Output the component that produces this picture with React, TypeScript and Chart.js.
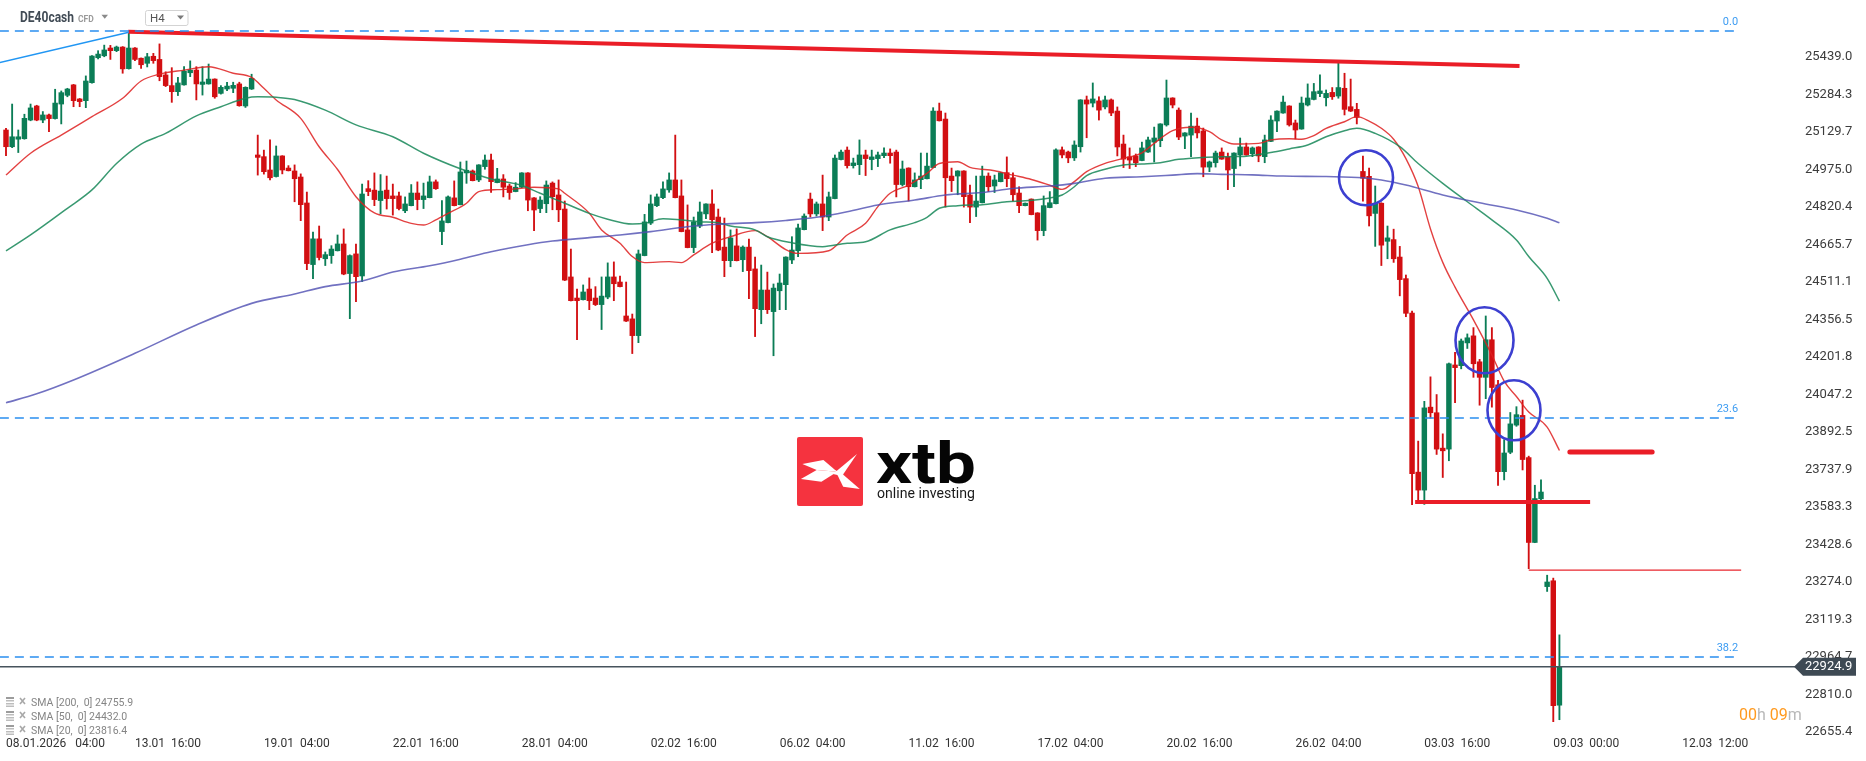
import React, { useEffect, useRef } from "react";
import { Chart, registerables } from "chart.js";

Chart.register(...registerables);
Chart.defaults.font.family = "Roboto";

// ---------------- DATA ----------------
const opens = [
  25138,25069,25100,25102,25179,25237,25179,25200,25185,25245,
  25281,25324,25266,25259,25333,25436,25444,25476,25465,25480,
  25391,25476,25434,25413,25442,25429,25365,25321,25296,25324,
  25374,25385,25326,25328,25348,25289,25307,25310,25328,25237,
  25307,25035,25028,24973,24946,25031,24981,24969,24944,24837,
  24583,24689,24607,24620,24640,24668,24546,24627,24536,24896,
  24890,24847,24890,24866,24866,24805,24826,24878,24851,24859,
  24924,24719,24756,24858,24830,24961,24969,24932,24987,25014,
  24921,24936,24907,24884,24902,24961,24858,24814,24834,24919,
  24870,24812,24532,24445,24438,24482,24445,24418,24449,24532,
  24511,24371,24359,24290,24620,24754,24826,24859,24891,24932,
  24866,24726,24653,24742,24792,24833,24779,24655,24599,24660,
  24603,24655,24565,24397,24478,24389,24475,24500,24602,24640,
  24727,24853,24792,24833,24779,24855,25016,25055,24991,24995,
  25035,25016,25020,25032,25043,25047,24913,24981,24904,24933,
  24937,24983,25216,25183,24948,24948,24969,24870,24820,24838,
  24948,24907,24925,24962,24941,24878,24826,24853,24796,24723,
  24818,24834,25056,25047,25023,25069,25262,25249,25258,25233,
  25262,25216,25080,25027,25031,25012,25047,25088,25094,25159,
  25270,25220,25113,25117,25154,25134,24985,25003,25047,25027,
  24979,25035,25068,25040,25068,25028,25091,25175,25208,25237,
  25167,25142,25241,25264,25288,25271,25293,25278,25310,25234,
  25223,24967,24947,24794,24836,24679,24686,24614,24525,24383,
  23727,23653,23995,23972,23826,23822,24169,24166,24260,24289,
  24182,24118,24273,24087,23729,23809,23921,23961,23787,23437,
  23617,23255,23279,22766,
];
const highs = [
  25145,25245,25138,25203,25245,25240,25214,25204,25306,25299,
  25310,25326,25268,25361,25445,25465,25488,25487,25484,25482,
  25541,25478,25435,25454,25454,25493,25378,25395,25355,25399,
  25423,25399,25399,25410,25349,25321,25335,25335,25335,25316,
  25368,25117,25055,25097,25072,25032,24991,24994,24957,24882,
  24717,24742,24635,24661,24705,24730,24623,24668,24915,24929,
  24961,24954,24948,24915,24882,24862,24913,24924,24919,24948,
  24932,24847,24866,24928,25006,25010,24973,24995,25035,25039,
  24980,24954,24915,24921,24962,24962,24859,24863,24928,24924,
  24932,24845,24647,24482,24499,24528,24492,24532,24590,24594,
  24536,24511,24379,24643,24790,24870,24874,24924,24961,25117,
  24932,24829,24779,24841,24834,24891,24812,24775,24726,24730,
  24660,24688,24614,24581,24552,24503,24544,24615,24698,24750,
  24792,24878,24841,24952,24882,25035,25055,25068,25022,25097,
  25055,25055,25047,25064,25060,25055,25010,24982,24961,25043,
  25043,25230,25249,25208,24981,24970,24970,24911,24948,24989,
  24961,24952,24963,25027,24961,24904,24837,24854,24797,24866,
  24884,25060,25068,25051,25093,25263,25278,25332,25275,25278,
  25266,25233,25117,25064,25039,25088,25109,25150,25164,25344,
  25271,25229,25127,25208,25187,25146,25010,25051,25064,25043,
  25044,25105,25084,25068,25069,25117,25197,25217,25278,25238,
  25179,25274,25328,25330,25365,25303,25313,25420,25372,25348,
  25248,25030,24981,24907,24838,24742,24729,24658,24540,24391,
  23855,24019,24120,24047,23885,24177,24221,24276,24297,24323,
  24192,24371,24323,24106,23861,23973,23997,24024,23793,23673,
  23695,23302,23290,23056,
];
const lows = [
  25032,25065,25045,25100,25176,25176,25168,25131,25183,25163,
  25275,25234,25234,25230,25331,25431,25440,25429,25461,25372,
  25389,25424,25392,25398,25413,25341,25317,25252,25280,25323,
  25358,25262,25282,25327,25269,25286,25300,25292,25236,25231,
  25305,24952,24956,24932,24944,24957,24969,24842,24764,24562,
  24525,24602,24579,24588,24639,24541,24360,24430,24513,24867,
  24826,24792,24812,24787,24808,24797,24825,24809,24814,24858,
  24893,24665,24755,24825,24829,24918,24928,24925,24976,24881,
  24920,24862,24852,24883,24900,24805,24723,24797,24797,24809,
  24760,24517,24433,24273,24437,24397,24414,24315,24442,24434,
  24491,24348,24216,24261,24619,24748,24822,24855,24881,24858,
  24718,24652,24632,24735,24772,24632,24640,24533,24574,24598,
  24554,24442,24286,24339,24381,24207,24397,24397,24587,24616,
  24726,24779,24783,24723,24764,24854,25015,24981,24981,24954,
  24950,24974,24987,25024,25001,24862,24907,24845,24903,24896,
  24936,24982,25175,24820,24884,24871,24820,24756,24781,24837,
  24884,24880,24924,24904,24845,24797,24825,24788,24684,24702,
  24817,24833,25023,25003,25012,25047,25106,25233,25179,25225,
  25197,25031,24983,24979,24987,25011,25046,25006,25069,25154,
  25229,25098,25061,25028,25105,24945,24966,24985,25017,24892,
  24904,24990,25034,25028,25007,25003,25090,25131,25207,25154,
  25101,25141,25237,25262,25275,25237,25264,25269,25200,25214,
  25163,24844,24742,24658,24579,24607,24592,24454,24368,23593,
  23606,23594,23950,23800,23705,23774,24013,24153,24237,24118,
  24003,24030,23995,23672,23695,23803,23916,23736,23329,23436,
  23613,23235,22698,22706,
];
const closes = [
  25069,25110,25110,25186,25229,25179,25200,25185,25249,25292,
  25307,25259,25255,25340,25443,25451,25468,25465,25480,25390,
  25476,25429,25407,25440,25424,25358,25321,25296,25332,25381,
  25385,25328,25336,25348,25275,25314,25319,25322,25238,25314,
  25351,25025,24966,24941,25031,24973,24970,24937,24830,24587,
  24689,24612,24624,24647,24668,24544,24620,24533,24874,24884,
  24851,24886,24855,24855,24814,24833,24878,24851,24866,24924,
  24896,24763,24862,24826,24965,24972,24929,24994,25014,24925,
  24936,24902,24880,24902,24961,24849,24808,24849,24911,24863,
  24809,24519,24434,24434,24470,24434,24418,24453,24532,24504,
  24492,24350,24290,24627,24759,24833,24862,24895,24932,24859,
  24719,24653,24759,24800,24833,24768,24643,24599,24693,24599,
  24655,24558,24401,24478,24397,24486,24507,24614,24643,24734,
  24783,24792,24833,24779,24862,25022,25047,24991,25002,25035,
  25020,25027,25035,25043,25032,24913,24977,24904,24932,24948,
  24989,25216,25176,24941,24929,24969,24863,24820,24845,24948,
  24904,24932,24962,24937,24871,24826,24836,24789,24723,24826,
  24838,25056,25035,25023,25076,25262,25245,25266,25220,25262,
  25208,25068,25018,25014,25003,25064,25097,25105,25163,25270,
  25241,25109,25126,25154,25126,24985,25006,25043,25018,24973,
  25043,25068,25035,25064,25031,25097,25179,25216,25253,25159,
  25138,25249,25270,25296,25299,25289,25275,25313,25223,25216,
  25190,24939,24784,24836,24663,24693,24607,24521,24382,23721,
  23653,23992,23972,23822,23815,24174,24158,24268,24281,24174,
  24118,24273,24076,23729,23806,23926,23964,23779,23437,23618,
  23645,23274,22764,22924.9,
];

const timeTickBars = [0, 21, 42, 63, 84, 105, 126, 147, 168, 189, 210, 231, 252, 273];
const timeTickLabels = [
  "08.01.2026   04:00", "13.01  16:00", "19.01  04:00", "22.01  16:00", "28.01  04:00",
  "02.02  16:00", "06.02  04:00", "11.02  16:00", "17.02  04:00", "20.02  16:00",
  "26.02  04:00", "03.03  16:00", "09.03  00:00", "12.03  12:00",
];
const priceTicks = [
  25439.0, 25284.3, 25129.7, 24975.0, 24820.4, 24665.7, 24511.1, 24356.5, 24201.8, 24047.2,
  23892.5, 23737.9, 23583.3, 23428.6, 23274.0, 23119.3, 22964.7, 22810.0, 22655.4,
];

const sma20Bars = [0,4,9,14,19,22,25,29,33,37,40,42,44,48,51,54,57,60,63,66,68,70,72,75,77,80,83,86,90,91,95,97,100,102,104,108,110,112,115,118,122,124,127,129,134,137,140,142,144,147,150,152,155,157,161,164,167,170,172,174,176,179,182,185,187,190,193,196,198,200,204,206,209,211,213,215,218,220,222,224,226,228,230,232,234,236,239,242,244,246,248,251,253];
const sma20Values = [24952,25042,25117,25193,25269,25340,25368,25385,25399,25372,25355,25310,25262,25186,25069,24975,24863,24796,24778,24753,24746,24767,24794,24836,24884,24892,24895,24902,24895,24877,24795,24726,24671,24616,24591,24595,24591,24623,24671,24698,24723,24698,24645,24629,24640,24705,24753,24822,24877,24911,24959,25000,25007,24984,24970,24952,24934,24910,24893,24925,24966,25000,25021,25044,25083,25135,25149,25131,25097,25080,25083,25097,25102,25100,25115,25145,25172,25193,25175,25145,25100,25020,24905,24730,24592,24490,24355,24210,24102,24039,23975,23913,23816.4];

const sma50Bars = [0,4,10,14,18,22,26,31,35,39,41,44,47,52,57,63,68,74,79,84,87,91,95,98,102,104,107,110,113,116,118,122,124,128,133,137,140,144,148,150,152,155,159,163,166,170,172,174,176,179,182,185,188,191,195,199,202,206,209,212,215,218,220,223,227,230,234,238,242,246,248,251,253];
const sma50Values = [24639,24705,24815,24891,25000,25080,25124,25196,25234,25269,25275,25273,25264,25220,25159,25110,25042,24978,24936,24909,24877,24836,24794,24770,24750,24753,24772,24767,24760,24756,24742,24726,24698,24673,24657,24671,24677,24726,24756,24778,24815,24826,24830,24842,24846,24858,24870,24904,24950,24976,24994,24998,25003,25017,25025,25028,25030,25045,25060,25076,25110,25135,25145,25124,25069,25000,24918,24842,24767,24684,24616,24526,24432.0];

const sma200Bars = [0,5,11,21,31,40,47,52,58,63,69,74,79,85,89,95,100,105,111,116,122,127,132,137,142,148,153,159,164,170,174,179,185,190,194,198,203,208,215,221,224,228,234,240,246,251,253];
const sma200Values = [24013,24050,24107,24217,24334,24423,24462,24492,24515,24552,24578,24605,24636,24665,24680,24694,24705,24719,24739,24749,24756,24765,24778,24801,24829,24849,24870,24880,24897,24907,24918,24939,24945,24952,24958,24955,24953,24948,24946,24941,24932,24911,24870,24838,24808,24774,24755.9];

const legendNames = ["SMA [200,  0]", "SMA [50,  0]", "SMA [20,  0]"];
const legendValues = ["24755.9", "24432.0", "23816.4"];

const fibLabels = ["0.0", "23.6", "38.2"];
const fibPrices = [25546.2, 23950.3, 22964.7];
const fibBars = [-1, 282.1];

const blueTrendBars = [-1, 20];
const blueTrendPrices = [25416, 25541];
const redTrendBars = [19.9, 246.5];
const redTrendPrices = [25543, 25402];
const supportBars = [229.5, 258];
const supportPrice = 23604;
const resistBars = [254.7, 268.1];
const resistPrice = 23810;
const lowLineBars = [248, 282.6];
const lowLinePrice = 23323;
const lastPrice = 22924.9;
const lastPriceBars = [-1, 292];

const circleBars = [221.5, 240.8, 245.6];
const circlePrices = [24941, 24271, 23982];

// ---------------- STYLE ----------------
const GREEN = "#0b7d56";
const RED = "#d20f12";
const circleRadii = [
  [27, 27.5],
  [29, 33],
  [26.5, 30],
];

const X_MIN = -6 / 6.14;
const X_MAX = (1795 - 6) / 6.14;
const Y_MAX = 25674.06;
const Y_MIN = 22638.89;

function fitText(ctx: CanvasRenderingContext2D, text: string, x: number, y: number, w: number) {
  const m = ctx.measureText(text).width;
  ctx.save();
  ctx.translate(x, y);
  ctx.scale(w / m, 1);
  ctx.fillText(text, 0, 0);
  ctx.restore();
}

const overlayPlugin = {
  id: "overlay",
  afterDatasetsDraw(chart: any) {
    const ctx: CanvasRenderingContext2D = chart.ctx;
    const xs = chart.scales.x;
    const ys = chart.scales.y;
    ctx.save();
    // circles
    ctx.strokeStyle = "#3c3fd0";
    ctx.lineWidth = 2.6;
    circleBars.forEach((b, i) => {
      ctx.beginPath();
      ctx.ellipse(xs.getPixelForValue(b), ys.getPixelForValue(circlePrices[i]), circleRadii[i][0], circleRadii[i][1], 0, 0, Math.PI * 2);
      ctx.stroke();
    });
    // fib labels
    ctx.fillStyle = "#3d9cf2";
    ctx.font = "11px Roboto";
    ctx.textAlign = "right";
    ctx.textBaseline = "middle";
    const fx = xs.getPixelForValue(fibBars[1]);
    fibPrices.forEach((p, i) => {
      ctx.fillText(fibLabels[i], fx, ys.getPixelForValue(p) - 9);
    });
    ctx.restore();
  },
  afterDraw(chart: any) {
    const ctx: CanvasRenderingContext2D = chart.ctx;
    const ys = chart.scales.y;
    const area = chart.chartArea;
    ctx.save();
    // header
    ctx.textBaseline = "middle";
    ctx.textAlign = "left";
    ctx.fillStyle = "#414b55";
    ctx.font = "bold 15px Roboto";
    fitText(ctx, "DE40cash", 20, 18.5, 54);
    ctx.fillStyle = "#9a9a9a";
    ctx.font = "bold 8.5px Roboto";
    ctx.fillText("CFD", 78, 20);
    ctx.fillStyle = "#8a8a8a";
    ctx.beginPath();
    ctx.moveTo(101.5, 14.8);
    ctx.lineTo(108, 14.8);
    ctx.lineTo(104.75, 18.8);
    ctx.closePath();
    ctx.fill();
    ctx.strokeStyle = "#d3d3d3";
    ctx.lineWidth = 1;
    ctx.beginPath();
    ctx.roundRect(145.5, 10.5, 42.5, 15, 2);
    ctx.stroke();
    ctx.fillStyle = "#555";
    ctx.font = "11.5px Roboto";
    ctx.fillText("H4", 150, 19);
    ctx.fillStyle = "#7a7a7a";
    ctx.beginPath();
    ctx.moveTo(177, 15.5);
    ctx.lineTo(184, 15.5);
    ctx.lineTo(180.5, 19.5);
    ctx.closePath();
    ctx.fill();

    // logo
    ctx.fillStyle = "#f5333f";
    ctx.beginPath();
    ctx.roundRect(797, 437, 66, 69, 2);
    ctx.fill();
    ctx.fillStyle = "#ffffff";
    const polys = [
      [[802.4, 464], [823.4, 460], [837.2, 471.7], [816.7, 470]],
      [[800.9, 479], [816.7, 470], [837.2, 471.7], [821.4, 481.7]],
      [[833, 474], [857, 454], [842, 476]],
      [[835, 470], [843, 474.5], [859.8, 489], [843.2, 486.7]],
    ];
    polys.forEach((pts) => {
      ctx.beginPath();
      ctx.moveTo(pts[0][0], pts[0][1]);
      for (let k = 1; k < pts.length; k++) ctx.lineTo(pts[k][0], pts[k][1]);
      ctx.closePath();
      ctx.fill();
    });
    ctx.fillStyle = "#050505";
    ctx.textBaseline = "alphabetic";
    ctx.font = "bold 57px Roboto";
    fitText(ctx, "xtb", 876, 483, 100);
    ctx.fillStyle = "#1a1a1a";
    ctx.font = "14px Roboto";
    fitText(ctx, "online investing", 877, 498, 98);

    // SMA legend
    ctx.textBaseline = "middle";
    ctx.font = "10.5px Roboto";
    legendNames.forEach((n, i) => {
      const y = 702 + i * 14;
      ctx.fillStyle = "#9c9c9c";
      ctx.fillRect(6, y - 5, 8, 2);
      ctx.fillStyle = "#bdbdbd";
      ctx.fillRect(6, y - 2, 8, 1.5);
      ctx.fillRect(6, y + 1, 8, 1.5);
      ctx.fillRect(6, y + 3.5, 8, 1.5);
      ctx.strokeStyle = "#a8a8a8";
      ctx.lineWidth = 1.6;
      ctx.beginPath();
      ctx.moveTo(20, y - 4);
      ctx.lineTo(25, y + 2);
      ctx.moveTo(25, y - 4);
      ctx.lineTo(20, y + 2);
      ctx.stroke();
      ctx.fillStyle = "#858585";
      ctx.fillText(n + " " + legendValues[i], 31, y + 1);
    });

    // timer
    ctx.font = "16px Roboto";
    let tx = 1739;
    const parts: [string, string][] = [["00", "#ff9a1f"], ["h ", "#b8b8b8"], ["09", "#ff9a1f"], ["m", "#b8b8b8"]];
    parts.forEach(([t, c]) => {
      ctx.fillStyle = c;
      ctx.fillText(t, tx, 716);
      tx += ctx.measureText(t).width;
    });

    // price tag
    const yP = ys.getPixelForValue(lastPrice);
    const x0 = area.right - 1;
    ctx.fillStyle = "#3e4a54";
    ctx.beginPath();
    ctx.moveTo(x0, yP);
    ctx.lineTo(x0 + 9, yP - 9);
    ctx.lineTo(1856, yP - 9);
    ctx.lineTo(1856, yP + 9);
    ctx.lineTo(x0 + 9, yP + 9);
    ctx.closePath();
    ctx.fill();
    ctx.fillStyle = "#ffffff";
    ctx.font = "13px Roboto";
    ctx.textAlign = "left";
    ctx.fillText(lastPrice.toFixed(1), area.right + 10, yP + 0.5);
    ctx.restore();
  },
};

export default function App() {
  const ref = useRef<HTMLCanvasElement>(null);
  useEffect(() => {
    const canvas = ref.current!;
    const idx = opens.map((_, i) => i);
    const colors = idx.map((i) => (closes[i] >= opens[i] ? GREEN : RED));
    const pts = (bars: number[], vals: number[]) => bars.map((b, i) => ({ x: b, y: vals[i] }));
    const flat = (bars: number[], v: number) => bars.map((b) => ({ x: b, y: v }));
    const straight = (data: any[], color: string, width: number, extra: any = {}) => ({
      type: "line",
      data,
      borderColor: color,
      borderWidth: width,
      pointRadius: 0,
      fill: false,
      tension: 0,
      order: 0,
      ...extra,
    });
    const sma = (data: any[], color: string, width: number) => ({
      type: "line",
      data,
      borderColor: color,
      borderWidth: width,
      pointRadius: 0,
      fill: false,
      cubicInterpolationMode: "monotone",
      order: 0,
    });

    const chart = new Chart(canvas, {
      type: "bar",
      data: {
        datasets: [
          {
            type: "bar",
            data: idx.map((i) => ({ x: i, y: [lows[i], highs[i]] })),
            backgroundColor: colors,
            barThickness: 1.2,
            grouped: false,
            minBarLength: 1,
            order: 3,
          },
          {
            type: "bar",
            data: idx.map((i) => ({ x: i, y: [opens[i], closes[i]] })),
            backgroundColor: colors,
            barThickness: 4.8,
            grouped: false,
            minBarLength: 1.5,
            order: 2,
          },
          ...fibPrices.map((p) => straight(flat(fibBars, p), "#2a8ef0", 1.3, { borderDash: [9, 6] })),
          straight(flat(lastPriceBars, lastPrice), "#47535d", 1.5),
          sma(pts(sma200Bars, sma200Values), "rgba(78, 78, 178, 0.8)", 1.6),
          sma(pts(sma50Bars, sma50Values), "rgba(22, 135, 88, 0.85)", 1.5),
          sma(pts(sma20Bars, sma20Values), "rgba(222, 32, 32, 0.85)", 1.4),
          straight(pts(blueTrendBars, blueTrendPrices), "#2196f3", 1.4),
          straight(pts(redTrendBars, redTrendPrices), "#ea1d27", 4),
          straight(flat(supportBars, supportPrice), "#ea1d27", 4),
          straight(flat(resistBars, resistPrice), "#ea1d27", 5, { borderCapStyle: "round" }),
          straight(flat(lowLineBars, lowLinePrice), "#e8262e", 1.3),
        ] as any,
      },
      options: {
        responsive: false,
        animation: false,
        devicePixelRatio: 1,
        events: [],
        layout: { padding: 0, autoPadding: false },
        plugins: { legend: { display: false }, tooltip: { enabled: false } },
        scales: {
          x: {
            type: "linear",
            min: X_MIN,
            max: X_MAX,
            offset: false,
            grid: { display: false, drawTicks: false, offset: false },
            border: { display: false },
            afterBuildTicks: (s: any) => {
              s.ticks = timeTickBars.map((v) => ({ value: v }));
            },
            afterFit: (s: any) => {
              s.height = 25;
              s.paddingLeft = 0;
              s.paddingRight = 0;
            },
            ticks: {
              autoSkip: false,
              maxRotation: 0,
              minRotation: 0,
              align: "start",
              padding: 1,
              color: "#333",
              font: { size: 12, family: "Roboto" },
              callback: (_v: any, i: number) => timeTickLabels[i],
            },
          },
          y: {
            type: "linear",
            position: "right",
            min: Y_MIN,
            max: Y_MAX,
            beginAtZero: false,
            grid: { display: false, drawTicks: false },
            border: { display: false },
            afterBuildTicks: (s: any) => {
              s.ticks = priceTicks.map((v) => ({ value: v }));
            },
            afterFit: (s: any) => {
              s.width = 71;
              s.paddingTop = 0;
              s.paddingBottom = 0;
            },
            ticks: {
              autoSkip: false,
              padding: 10,
              color: "#3c3c3c",
              font: { size: 13, family: "Roboto" },
              callback: (v: any) => Number(v).toFixed(1),
            },
          },
        },
      } as any,
      plugins: [overlayPlugin],
    });
    return () => chart.destroy();
  }, []);

  return (
    <div style={{ position: "fixed", left: 0, top: 0, width: 1866, height: 761, background: "#fff" }}>
      <canvas ref={ref} width={1866} height={761} style={{ display: "block", width: 1866, height: 761 }} />
    </div>
  );
}
